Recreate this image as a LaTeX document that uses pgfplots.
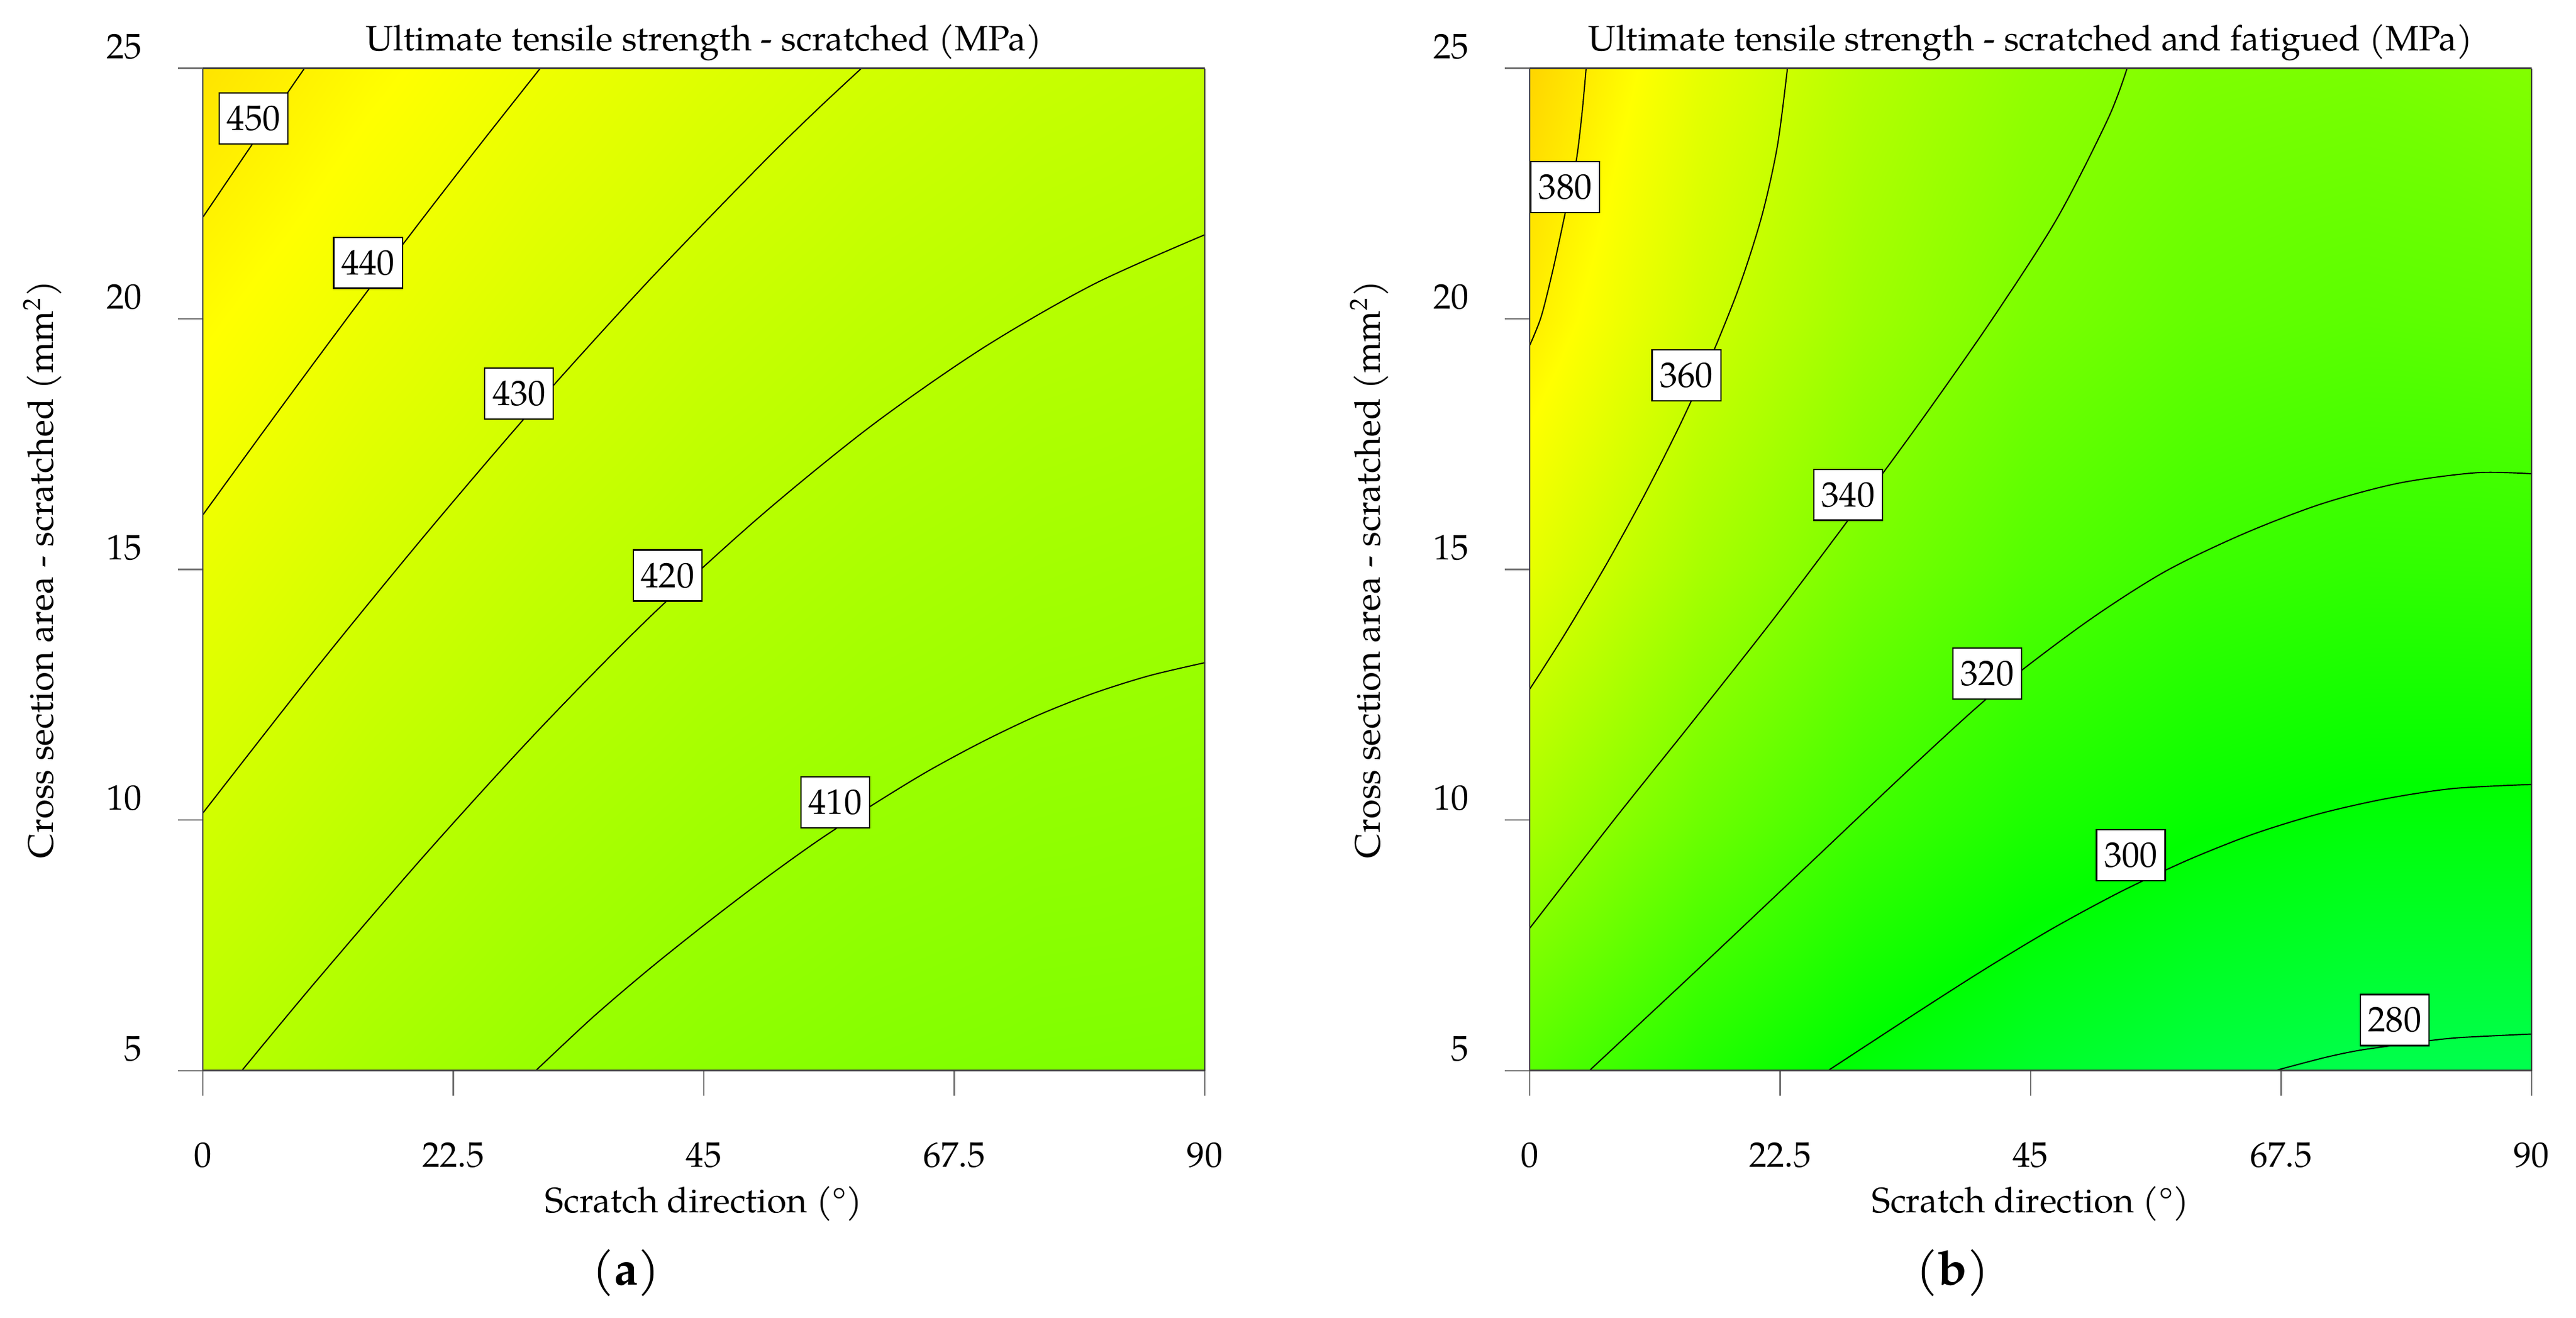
\documentclass[border=0pt]{standalone}
\usepackage{fontspec}
\setmainfont{TeX Gyre Pagella}
\usepackage{pgfplots}
\pgfplotsset{compat=1.18}

\tikzset{
  clabel/.style={draw=black, line width=0.4pt, fill=white, inner sep=0pt,
    minimum width=19.4pt, minimum height=14.4pt},
}
\pgfplotsset{
  colormap={de}{rgb255=(0,0,255) rgb255=(0,255,255) rgb255=(0,255,0) rgb255=(255,255,0) rgb255=(255,0,0)},
  myaxis/.style={
    view={0}{90},
    scale only axis, width=283pt, height=283pt,
    xmin=0, xmax=90, ymin=5, ymax=25,
    xtick={0,22.5,45,67.5,90}, ytick={5,10,15,20,25},
    tick align=outside, major tick length=7.03pt,
    xtick pos=left, ytick pos=left,
    axis line style={black!75, line width=0.45pt},
    tick style={black!55, line width=0.4pt},
    /pgf/number format/assume math mode=true,
    xticklabel style={anchor=north, inner sep=0pt, yshift=-13.1pt},
    yticklabel style={anchor=south east, inner sep=0pt, xshift=-10.0pt, yshift=2.4pt},
    colormap name=de,
    axis on top,
    every axis title/.style={at={(axis description cs:0.5,1.0173)}, anchor=base, inner sep=0pt},
    xlabel style={at={(axis description cs:0.5,-0.1417)}, anchor=base, inner sep=0pt},
    ylabel style={at={(axis description cs:-0.1601,0.5)}, anchor=center, inner sep=0pt},
    xlabel={Scratch direction (°)},
    ylabel={Cross section area - scratched (mm\textsuperscript{2})},
  },
  cline/.style={black, line width=0.33pt, smooth, no markers},
}

\begin{document}
\begin{tikzpicture}
\useasboundingbox (-57.3pt,-69.7pt) rectangle (670.2pt,302.3pt);

% ---------------- (a) ----------------
\begin{axis}[myaxis, at={(0pt,0pt)}, anchor=south west,
  point meta min=180, point meta max=534,
  title={Ultimate tensile strength - scratched (MPa)}]
\addplot3[surf, shader=interp, mesh/cols=7] table[x=x, y=y, z=z] {
x y z
0 5 421.35
15 5 415.06
30 5 409.90
45 5 405.86
60 5 402.94
75 5 401.15
90 5 400.47
0 10 429.76
15 10 423.05
30 10 417.46
45 10 412.99
60 10 409.65
75 10 407.43
90 10 406.33
0 15 438.17
15 15 431.03
30 15 425.02
45 15 420.13
60 15 416.35
75 15 413.71
90 15 412.18
0 20 446.58
15 20 439.02
30 20 432.58
45 20 427.26
60 20 423.06
75 20 419.99
90 20 418.04
0 25 454.99
15 25 447.00
30 25 440.13
45 25 434.39
60 25 429.77
75 25 426.27
90 25 423.89
};
\addplot3[cline] coordinates {(0,22.03,450) (5,23.67,450) (9.12,25,450)};
\addplot3[cline] coordinates {(0,16.09,440) (5,17.62,440) (10,19.13,440) (15,20.62,440) (20,22.08,440) (25,23.51,440) (30.3,25,440)};
\addplot3[cline] coordinates {(0,10.14,430) (10,12.98,430) (20,15.70,430) (30,18.30,430) (40,20.75,430) (50,23.05,430) (55,24.14,430) (59.15,25,430)};
\addplot3[cline] coordinates {(3.5,5,420) (10,6.74,420) (20,9.32,420) (30,11.76,420) (40,14.02,420) (50,16.05,420) (60,17.86,420) (70,19.41,420) (80,20.69,420) (90,21.68,420)};
\addplot3[cline] coordinates {(29.9,5,410) (35,6.06,410) (40,7.01,410) (45,7.90,410) (50,8.75,410) (55,9.55,410) (60,10.28,410) (65,10.96,410) (70,11.56,410) (75,12.09,410) (80,12.53,410) (85,12.88,410) (90,13.14,410)};
\node[clabel] at (axis cs:4.56,24.0,450) {450};
\node[clabel] at (axis cs:14.84,21.12,440) {440};
\node[clabel] at (axis cs:28.4,18.51,430) {430};
\node[clabel] at (axis cs:41.75,14.88,420) {420};
\node[clabel] at (axis cs:56.8,10.35,410) {410};
\end{axis}

% ---------------- (b) ----------------
\begin{axis}[myaxis, at={(374.7pt,0pt)}, anchor=south west,
  point meta min=150, point meta max=450,
  title={Ultimate tensile strength - scratched and fatigued (MPa)}]
\addplot3[surf, shader=interp, mesh/cols=7] table[x=x, y=y, z=z] {
x y z
0 5 325.74
15 5 309.94
30 5 297.21
45 5 287.56
60 5 280.97
75 5 277.45
90 5 277.00
0 10 349.59
15 10 332.42
30 10 318.65
45 10 308.27
60 10 301.29
75 10 297.70
90 10 297.51
0 15 367.83
15 15 349.64
30 15 335.18
45 15 324.44
60 15 317.42
75 15 314.12
90 15 314.55
0 20 380.47
15 20 361.62
30 20 346.83
45 20 336.08
60 20 329.37
75 20 326.72
90 20 328.11
0 25 387.50
15 25 368.36
30 25 353.57
45 25 343.18
60 25 337.15
75 25 335.48
90 25 338.20
};
\addplot3[cline] coordinates {(0,19.47,380) (1.04,20.05,380) (2.09,20.98,380) (3.2,22.12,380) (4.17,23.14,380) (4.7,24.1,380) (5.07,25,380)};
\addplot3[cline] coordinates {(0,12.61,360) (3.16,13.71,360) (6.88,15.10,360) (10.32,16.49,360) (13.49,17.88,360) (16.37,19.28,360) (18.87,20.67,360) (20.86,22.06,360) (22.25,23.45,360) (23.15,25,360)};
\addplot3[cline] coordinates {(0,7.84,340) (7.56,10,340) (14.76,12,340) (21.86,14,340) (28.66,16,340) (35.26,18,340) (41.56,20,340) (47.36,22,340) (51.96,24,340) (53.66,25,340)};
\addplot3[cline] coordinates {(5.36,5,320) (15,7.0,320) (25,9.1,320) (35,11.2,320) (42,12.6,320) (50,13.95,320) (57,14.95,320) (64,15.7,320) (71,16.3,320) (78,16.72,320) (85,16.93,320) (90,16.91,320)};
\addplot3[cline] coordinates {(26.8,5,300) (35,6.19,300) (41,7.04,300) (47,7.84,300) (53,8.56,300) (59,9.19,300) (65,9.72,300) (71,10.13,300) (77,10.43,300) (83,10.63,300) (90,10.71,300)};
\addplot3[cline] coordinates {(66.95,5,280) (71.4,5.26,280) (74.4,5.40,280) (77.5,5.50,280) (80.5,5.59,280) (83.6,5.66,280) (90,5.73,280)};
\node[clabel] at (axis cs:3.2,22.63,380) {380};
\node[clabel] at (axis cs:14.08,18.87,360) {360};
\node[clabel] at (axis cs:28.61,16.49,340) {340};
\node[clabel] at (axis cs:41.1,12.92,320) {320};
\node[clabel] at (axis cs:54.0,9.30,300) {300};
\node[clabel] at (axis cs:77.7,6.01,280) {280};
\end{axis}

\node[font=\fontsize{13.5}{16}\selectfont] at (119.5pt,-57.2pt) {(\textbf{a})};
\node[font=\fontsize{13.5}{16}\selectfont] at (494.1pt,-57.2pt) {(\textbf{b})};
\end{tikzpicture}
\end{document}
